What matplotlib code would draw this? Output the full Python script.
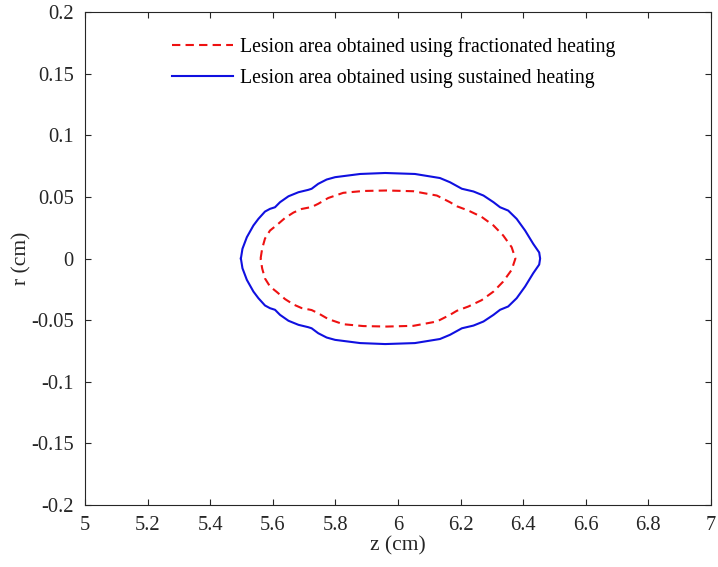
import numpy as np
import matplotlib
matplotlib.use('Agg')
import matplotlib.pyplot as plt

# Lesion boundary (upper half then lower half)
z_sus_up = [5.498, 5.503, 5.517, 5.538, 5.554, 5.575, 5.591, 5.607, 5.623, 5.650,
            5.682, 5.713, 5.724, 5.745, 5.772, 5.799, 5.879, 5.959, 6.054, 6.134,
            6.166, 6.204, 6.241, 6.273, 6.305, 6.326, 6.352, 6.379, 6.406, 6.432,
            6.451, 6.454]
r_sus_up = [0.0, 0.0079, 0.0173, 0.0268, 0.0322, 0.0381, 0.0403, 0.0416, 0.0457, 0.0505,
            0.0538, 0.0557, 0.0566, 0.0606, 0.0641, 0.0660, 0.0686, 0.0694, 0.0686, 0.0653,
            0.0619, 0.0566, 0.0544, 0.0511, 0.0457, 0.0416, 0.0389, 0.0322, 0.0227, 0.0119,
            0.0049, 0.0]
z_sus_lo = [6.451, 6.432, 6.406, 6.379, 6.352, 6.326, 6.305, 6.273, 6.241, 6.204,
            6.166, 6.134, 6.054, 5.959, 5.879, 5.799, 5.772, 5.745, 5.724, 5.713,
            5.682, 5.650, 5.623, 5.607, 5.591, 5.575, 5.554, 5.538, 5.517, 5.503,
            5.498]
r_sus_lo = [-0.0049, -0.0119, -0.0227, -0.0322, -0.0389, -0.0416, -0.0457, -0.0511, -0.0544, -0.0566,
            -0.0619, -0.0653, -0.0686, -0.0694, -0.0686, -0.0660, -0.0641, -0.0606, -0.0566, -0.0557,
            -0.0538, -0.0505, -0.0457, -0.0416, -0.0403, -0.0381, -0.0322, -0.0268, -0.0173, -0.0079,
            0.0]

z_frac_up = [5.561, 5.566, 5.575, 5.591, 5.613, 5.639, 5.666, 5.692, 5.724, 5.745,
             5.777, 5.825, 5.889, 5.964, 6.049, 6.124, 6.166, 6.188, 6.225, 6.267,
             6.305, 6.336, 6.363, 6.375]
r_frac_up = [0.0, 0.0081, 0.0162, 0.0227, 0.0272, 0.0329, 0.0373, 0.0402, 0.0418, 0.0444,
             0.0491, 0.0533, 0.0548, 0.0552, 0.0546, 0.0511, 0.0457, 0.0424, 0.0389, 0.0338,
             0.0268, 0.0187, 0.0092, 0.0]
z_frac_lo = [6.363, 6.336, 6.305, 6.267, 6.225, 6.188, 6.166, 6.124, 6.049, 5.964,
             5.889, 5.825, 5.777, 5.745, 5.724, 5.692, 5.666, 5.639, 5.613, 5.591,
             5.575, 5.566, 5.561]
r_frac_lo = [-0.0092, -0.0187, -0.0268, -0.0338, -0.0389, -0.0424, -0.0457, -0.0511, -0.0546, -0.0552,
             -0.0548, -0.0533, -0.0491, -0.0444, -0.0418, -0.0402, -0.0373, -0.0329, -0.0272, -0.0227,
             -0.0162, -0.0081, 0.0]

z_ticks = [5, 5.2, 5.4, 5.6, 5.8, 6, 6.2, 6.4, 6.6, 6.8, 7]
z_tick_labels = ['5', '5.2', '5.4', '5.6', '5.8', '6', '6.2', '6.4', '6.6', '6.8', '7']
r_ticks = [-0.2, -0.15, -0.1, -0.05, 0, 0.05, 0.1, 0.15, 0.2]
r_tick_labels = ['-0.2', '-0.15', '-0.1', '-0.05', '0', '0.05', '0.1', '0.15', '0.2']

plt.rcParams['font.family'] = ['Liberation Serif', 'DejaVu Serif']
plt.rcParams['font.size'] = 14

axcol = '#262626'
fig = plt.figure(figsize=(7.18, 5.67), dpi=100)
ax = fig.add_axes([0.1184, 0.1093, 0.8719, 0.8695])

ax.plot(z_frac_up + z_frac_lo, r_frac_up + r_frac_lo, color='#ee1111', lw=1.5,
        dashes=(4, 2.5), label='Lesion area obtained using fractionated heating')
ax.plot(z_sus_up + z_sus_lo, r_sus_up + r_sus_lo, color='#1010e0', lw=1.5,
        label='Lesion area obtained using sustained heating')

ax.set_xlim(5, 7)
ax.set_ylim(-0.2, 0.2)
ax.set_xticks(z_ticks)
ax.set_xticklabels(z_tick_labels)
ax.set_yticks(r_ticks)
ax.set_yticklabels(r_tick_labels)
ax.tick_params(direction='in', top=True, right=True, length=4, width=0.8,
               color=axcol, labelcolor=axcol, labelsize=14.8)
ax.tick_params(axis='x', pad=8)
ax.tick_params(axis='y', pad=8)
for s in ax.spines.values():
    s.set_color(axcol)
    s.set_linewidth(0.8)

ax.set_xlabel('z (cm)', color=axcol, fontsize=15.5, labelpad=1)
ax.set_ylabel('r (cm)', color=axcol, fontsize=15.5)
ax.yaxis.set_label_coords(-0.086, 0.5)

ax.legend(loc='upper left', bbox_to_anchor=(0.11, 0.985), frameon=False,
          fontsize=14.2, handlelength=3.1, handletextpad=0.35, labelspacing=0.6)

fig.savefig('out.png', dpi=100)
